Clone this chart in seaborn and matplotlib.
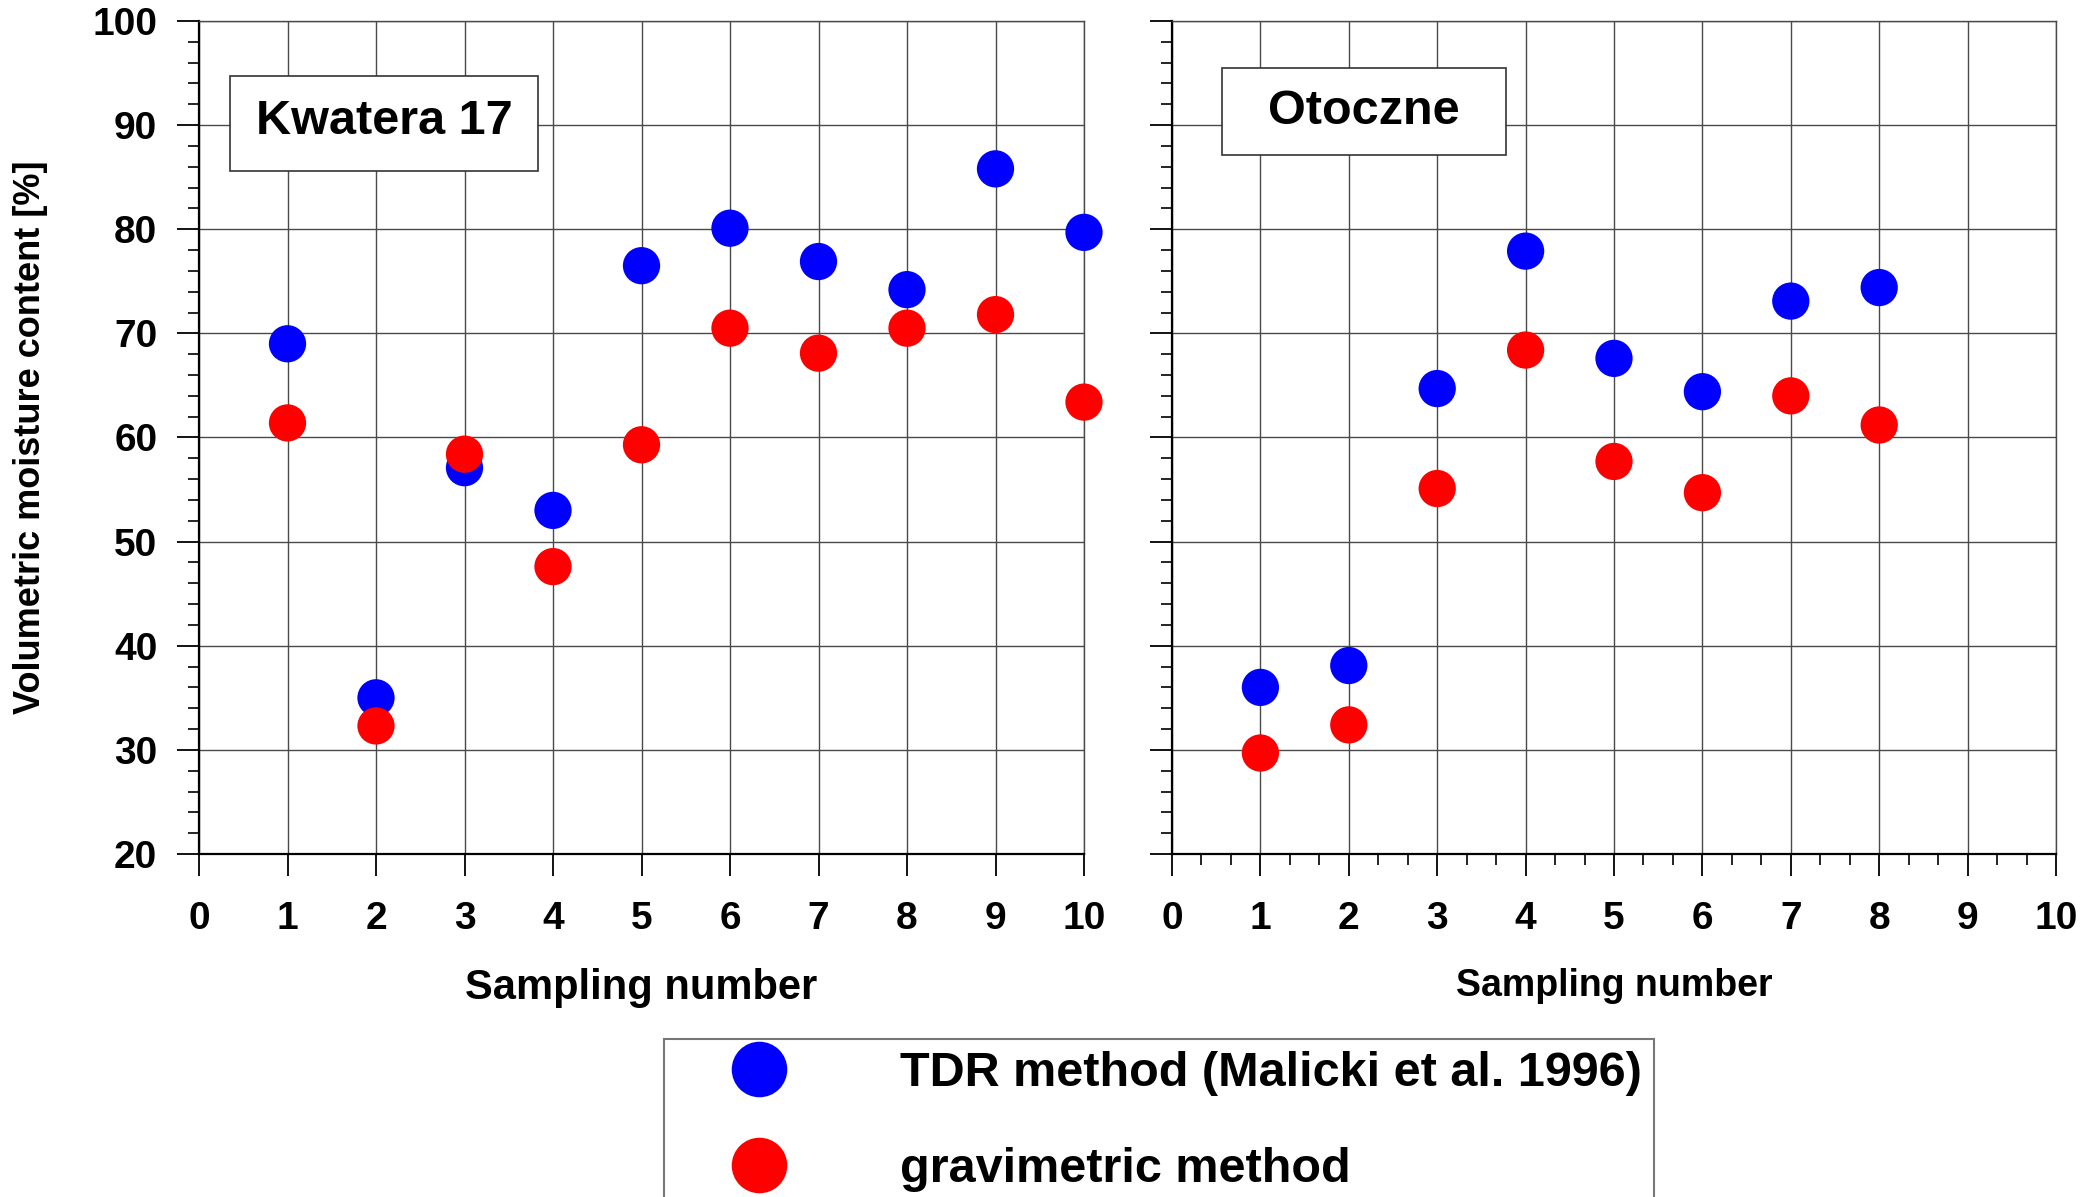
import numpy as np
import pandas as pd
import matplotlib
matplotlib.use("Agg")
import matplotlib.pyplot as plt
from matplotlib.lines import Line2D
from matplotlib.patches import Rectangle
from matplotlib.ticker import MultipleLocator, AutoMinorLocator
import seaborn as sns

# ---------------- data ----------------
kw_samples = [1, 2, 3, 4, 5, 6, 7, 8, 9, 10]
kw_tdr = [69.0, 35.0, 57.1, 53.0, 76.5, 80.1, 76.9, 74.2, 85.8, 79.7]
kw_grav = [61.4, 32.3, 58.4, 47.6, 59.3, 70.5, 68.1, 70.5, 71.8, 63.4]

ot_samples = [1, 2, 3, 4, 5, 6, 7, 8]
ot_tdr = [36.0, 38.1, 64.7, 77.9, 67.6, 64.4, 73.1, 74.4]
ot_grav = [29.7, 32.4, 55.1, 68.4, 57.7, 54.7, 64.0, 61.2]

methods = ["TDR method (Malicki et al. 1996)", "gravimetric method"]
panel_titles = ["Kwatera 17", "Otoczne"]
x_ticks = list(range(0, 11))
y_ticks = list(range(20, 101, 10))
xlabel = "Sampling number"
ylabel = "Volumetric moisture content [%]"

colors = {methods[0]: "#0000FF", methods[1]: "#FF0000"}

def make_df(samples, tdr, grav):
    return pd.concat([
        pd.DataFrame({"sample": samples, "value": tdr, "method": methods[0]}),
        pd.DataFrame({"sample": samples, "value": grav, "method": methods[1]}),
    ], ignore_index=True)

df_kw = make_df(kw_samples, kw_tdr, kw_grav)
df_ot = make_df(ot_samples, ot_tdr, ot_grav)

# ---------------- style ----------------
sns.set_style("white")
plt.rcParams["font.family"] = ["Liberation Sans", "DejaVu Sans"]
plt.rcParams["font.weight"] = "bold"
plt.rcParams["text.color"] = "black"
plt.rcParams["axes.labelcolor"] = "black"
plt.rcParams["xtick.color"] = "black"
plt.rcParams["ytick.color"] = "black"

W, H = 2083, 1197
fig = plt.figure(figsize=(W / 100, H / 100), dpi=100)

def fx(px):
    return px / W

def fy(py):
    return 1 - py / H

ax1 = fig.add_axes([fx(199), fy(854), fx(1084) - fx(199), fy(21) - fy(854)])
ax2 = fig.add_axes([fx(1172), fy(854), fx(2056) - fx(1172), fy(21) - fy(854)])

grid_color = "#4a4a4a"

for ax, df, title in [(ax1, df_kw, panel_titles[0]), (ax2, df_ot, panel_titles[1])]:
    sns.scatterplot(data=df, x="sample", y="value", hue="method", palette=colors,
                    s=720, linewidth=0, legend=False, ax=ax, zorder=3, clip_on=False)
    ax.set_xlim(0, 10)
    ax.set_ylim(20, 100)
    ax.set_xticks(x_ticks)
    ax.set_yticks(y_ticks)
    ax.yaxis.set_minor_locator(MultipleLocator(2))
    ax.grid(True, which="major", color=grid_color, linewidth=1.0, zorder=0)
    ax.set_axisbelow(True)
    for s in ["left", "bottom"]:
        ax.spines[s].set_color("black")
        ax.spines[s].set_linewidth(1.6)
    for s in ["top", "right"]:
        ax.spines[s].set_color(grid_color)
        ax.spines[s].set_linewidth(1.0)
    ax.tick_params(axis="both", which="both", left=True, bottom=True, top=False, right=False)
    ax.tick_params(axis="x", which="major", direction="out", length=16, width=1.3,
                   color="black", labelsize=28, pad=18, labelcolor="black")
    ax.tick_params(axis="y", which="major", direction="out", length=16, width=1.3,
                   color="black", labelsize=28, pad=14, labelcolor="black")
    ax.tick_params(axis="y", which="minor", direction="out", length=8, width=1.2, color="black")
    for lab in ax.get_xticklabels() + ax.get_yticklabels():
        lab.set_fontweight("bold")
    ax.set_ylabel("")

# Left panel labels
ax1.set_xlabel(xlabel, fontsize=30, fontweight="bold", color="black")
ax1.xaxis.set_label_coords(0.5, -0.161)
ax1.xaxis.label.set_va("center")
ax1.set_ylabel(ylabel, fontsize=26, fontweight="bold", color="black")
ax1.yaxis.set_label_coords(-0.19, 0.5)
ax1.yaxis.label.set_va("center")
ax1.tick_params(axis="x", which="minor", length=0)

# Right panel
ax2.tick_params(axis="y", which="both", labelleft=False)
ax2.xaxis.set_minor_locator(AutoMinorLocator(3))
ax2.tick_params(axis="x", which="minor", direction="out", length=8, width=1.2, color="black")
ax2.set_xlabel(xlabel, fontsize=27, fontweight="bold", color="black")
ax2.xaxis.set_label_coords(0.5, -0.158)
ax2.xaxis.label.set_va("center")

# Title boxes
for ax, title, box, center in [
    (ax1, panel_titles[0], (0.035, 0.820, 0.383 - 0.035, 0.934 - 0.820), (0.209, 0.879)),
    (ax2, panel_titles[1], (0.0566, 0.839, 0.378 - 0.0566, 0.944 - 0.839), (0.217, 0.891)),
]:
    ax.add_patch(Rectangle(box[:2], box[2], box[3], transform=ax.transAxes,
                           facecolor="white", edgecolor="#333333", linewidth=1.2, zorder=4))
    ax.text(center[0], center[1], title, transform=ax.transAxes, ha="center", va="center",
            fontsize=35, fontweight="bold", color="black", zorder=5)

# Legend
handles = [Line2D([], [], marker="o", linestyle="None", markersize=40,
                  markerfacecolor=colors[m], markeredgewidth=0) for m in methods]
leg = fig.legend(handles, methods, loc="upper left",
                 bbox_to_anchor=(fx(664), fy(1039)), borderaxespad=0,
                 frameon=True, fancybox=False,
                 prop={"weight": "bold", "size": 35},
                 handlelength=3.4, handletextpad=1.2, borderpad=0.25,
                 labelspacing=1.05)
leg.get_frame().set_edgecolor("#555555")
leg.get_frame().set_linewidth(1.5)
for t in leg.get_texts():
    t.set_color("black")

fig.savefig("out.png", dpi=100)
